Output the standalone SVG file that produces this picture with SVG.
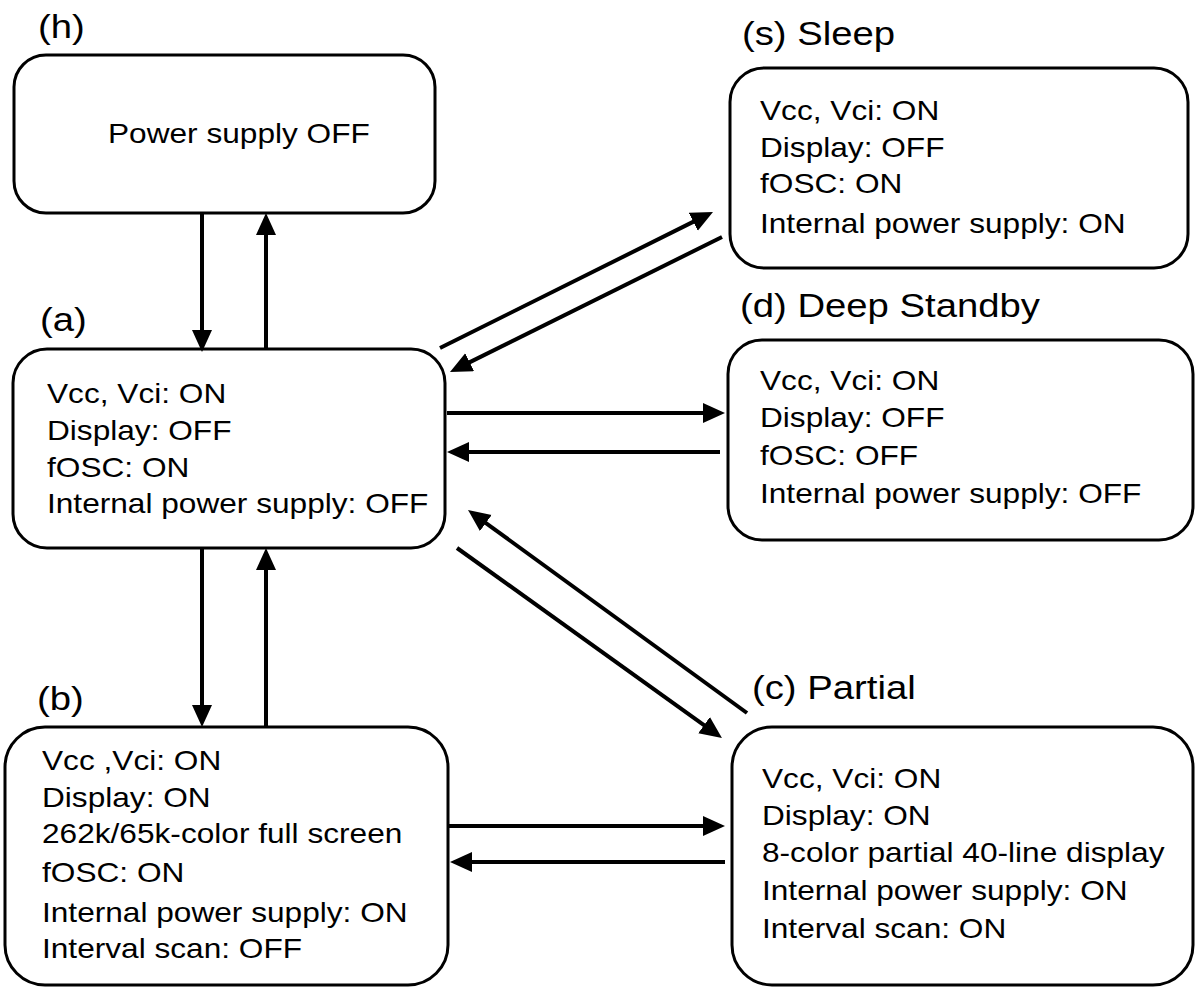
<svg xmlns="http://www.w3.org/2000/svg" width="1195" height="987" viewBox="0 0 1195 987">
<style>
.box{fill:#fff;stroke:#000;stroke-width:3}
.t{font-family:"Liberation Sans",Arial,sans-serif;font-size:28px;fill:#000}
.lbl{font-family:"Liberation Sans",Arial,sans-serif;font-size:33px;fill:#000}
.c{stroke:#000;stroke-width:4;fill:none;marker-end:url(#ah)}
</style>
<defs>
<marker id="ah" markerUnits="userSpaceOnUse" markerWidth="24" markerHeight="22" refX="2" refY="10" orient="auto">
<path d="M0,0 L22,10 L0,20 z" fill="#000"/>
</marker>
</defs>
<rect width="1195" height="987" fill="#fff"/>

<g id="node-h">
<rect class="box" x="14" y="55" width="421" height="158" rx="32"/>
<text class="lbl" transform="translate(38,38) scale(1.16,1)">(h)</text>
<text class="t" transform="translate(108,143) scale(1.13,1)">Power supply OFF</text>
</g>

<g id="node-a">
<rect class="box" x="13" y="349" width="432" height="199" rx="34"/>
<text class="lbl" transform="translate(40,331) scale(1.16,1)">(a)</text>
<g transform="translate(47,403) scale(1.13,1)">
<text class="t" y="0">Vcc, Vci: ON</text>
<text class="t" y="37">Display: OFF</text>
<text class="t" y="74">fOSC: ON</text>
<text class="t" y="110">Internal power supply: OFF</text>
</g>
</g>

<g id="node-b">
<rect class="box" x="5" y="727" width="443" height="258" rx="40"/>
<text class="lbl" transform="translate(37,710) scale(1.16,1)">(b)</text>
<g transform="translate(42,770) scale(1.13,1)">
<text class="t" y="0">Vcc ,Vci: ON</text>
<text class="t" y="37">Display: ON</text>
<text class="t" y="73">262k/65k-color full screen</text>
<text class="t" y="112">fOSC: ON</text>
<text class="t" y="152">Internal power supply: ON</text>
<text class="t" y="188">Interval scan: OFF</text>
</g>
</g>

<g id="node-s">
<rect class="box" x="730" y="68" width="458" height="200" rx="34"/>
<text class="lbl" transform="translate(742,45) scale(1.16,1)">(s) Sleep</text>
<g transform="translate(760,120) scale(1.13,1)">
<text class="t" y="0">Vcc, Vci: ON</text>
<text class="t" y="37">Display: OFF</text>
<text class="t" y="73">fOSC: ON</text>
<text class="t" y="113">Internal power supply: ON</text>
</g>
</g>

<g id="node-d">
<rect class="box" x="728" y="340" width="465" height="200" rx="34"/>
<text class="lbl" transform="translate(740,317) scale(1.16,1)">(d) Deep Standby</text>
<g transform="translate(760,390) scale(1.13,1)">
<text class="t" y="0">Vcc, Vci: ON</text>
<text class="t" y="37">Display: OFF</text>
<text class="t" y="75">fOSC: OFF</text>
<text class="t" y="113">Internal power supply: OFF</text>
</g>
</g>

<g id="node-c">
<rect class="box" x="732" y="727" width="461" height="258" rx="40"/>
<text class="lbl" transform="translate(752,699) scale(1.16,1)">(c) Partial</text>
<g transform="translate(762,788) scale(1.13,1)">
<text class="t" y="0">Vcc, Vci: ON</text>
<text class="t" y="37">Display: ON</text>
<text class="t" y="74">8-color partial 40-line display</text>
<text class="t" y="112">Internal power supply: ON</text>
<text class="t" y="150">Interval scan: ON</text>
</g>
</g>

<g id="connectors">
<line class="c" x1="202" y1="213" x2="202" y2="332"/>
<line class="c" x1="266" y1="349" x2="266" y2="233"/>
<line class="c" x1="202" y1="548" x2="202" y2="707"/>
<line class="c" x1="266" y1="727" x2="266" y2="568"/>
<line class="c" x1="440" y1="348" x2="695.1" y2="220.9"/>
<line class="c" x1="722" y1="237" x2="467.9" y2="363.1"/>
<line class="c" x1="447" y1="413" x2="705" y2="413"/>
<line class="c" x1="720" y1="452" x2="467" y2="452"/>
<line class="c" x1="747" y1="713" x2="484.2" y2="521.8"/>
<line class="c" x1="457" y1="548" x2="705.7" y2="726.3"/>
<line class="c" x1="448" y1="826" x2="705" y2="826"/>
<line class="c" x1="725" y1="862" x2="470" y2="862"/>
</g>
</svg>
